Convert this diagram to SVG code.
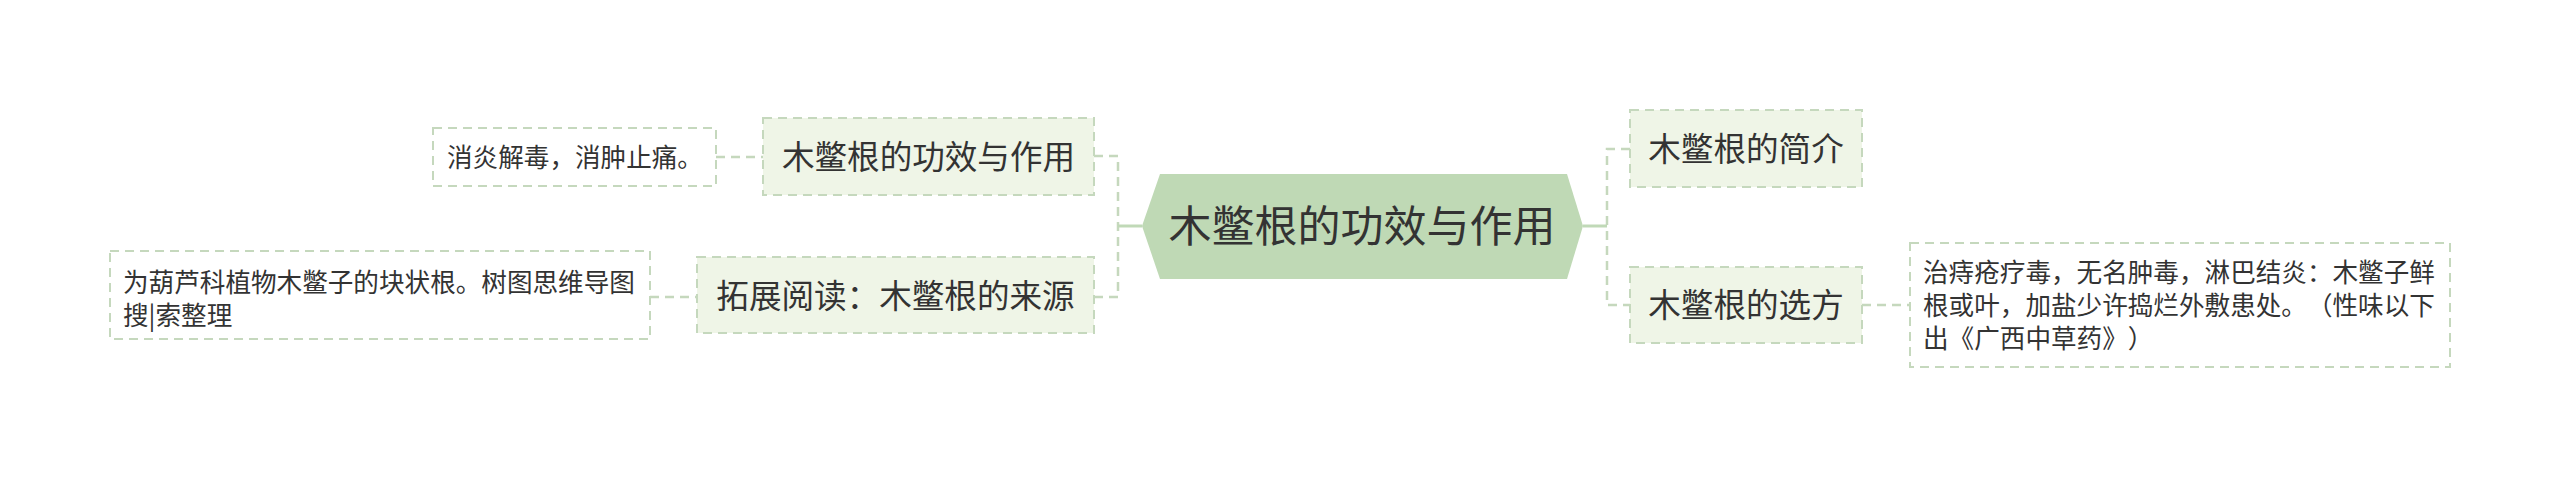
<svg xmlns="http://www.w3.org/2000/svg" width="2560" height="477" viewBox="0 0 2560 477">
<style>
text{font-family:"Noto Sans CJK SC","Microsoft YaHei",sans-serif;fill:#333333;text-spacing-trim:space-all}
.root{font-size:43px}
.l1{font-size:32.6px}
.leaf{font-size:25.6px}
.box1{fill:#eff5e7;stroke:#c5d8bd;stroke-width:2;stroke-dasharray:9 6}
.leafbox{fill:#ffffff;stroke:#c5d8bd;stroke-width:2;stroke-dasharray:9 6}
.dash{fill:none;stroke:#c5d8bd;stroke-width:2.5;stroke-dasharray:9 6}
.solid{fill:none;stroke:#c0d9b7;stroke-width:3}
</style>
<rect width="2560" height="477" fill="#ffffff"/>
<g id="connectors">
<path class="dash" d="M1094,156 H1118 V297 H1094"/>
<path class="solid" d="M1118,226 H1142"/>
<path class="dash" d="M1630,149 H1607 V305 H1630"/>
<path class="solid" d="M1583,226 H1607"/>
<path class="dash" d="M716,157 H763"/>
<path class="dash" d="M650,297 H697"/>
<path class="dash" d="M1862,305 H1910"/>
</g>
<g id="root">
<polygon points="1142,226 1160,174 1567,174 1583,226 1567,279 1160,279" fill="#bfd9b5"/>
<text class="root" x="1362" y="242" text-anchor="middle">木鳖根的功效与作用</text>
</g>
<g id="n-gongxiao">
<rect class="box1" x="763" y="118" width="331" height="77"/>
<text class="l1" x="928.5" y="169" text-anchor="middle">木鳖根的功效与作用</text>
</g>
<g id="n-laiyuan">
<rect class="box1" x="697" y="257" width="397" height="76"/>
<text class="l1" x="895.5" y="308" text-anchor="middle">拓展阅读：木鳖根的来源</text>
</g>
<g id="n-jianjie">
<rect class="box1" x="1630" y="110" width="232" height="77"/>
<text class="l1" x="1746" y="161" text-anchor="middle">木鳖根的简介</text>
</g>
<g id="n-xuanfang">
<rect class="box1" x="1630" y="267" width="232" height="76"/>
<text class="l1" x="1746" y="317" text-anchor="middle">木鳖根的选方</text>
</g>
<g id="leaf-gongxiao">
<rect class="leafbox" x="433" y="128" width="283" height="58"/>
<text class="leaf" x="447" y="167">消炎解毒，消肿止痛。</text>
</g>
<g id="leaf-laiyuan">
<rect class="leafbox" x="110" y="251" width="540" height="88"/>
<text class="leaf" x="123" y="292">为葫芦科植物木鳖子的块状根。树图思维导图</text>
<text class="leaf" x="123" y="325">搜|索整理</text>
</g>
<g id="leaf-xuanfang">
<rect class="leafbox" x="1910" y="243" width="540" height="124"/>
<text class="leaf" x="1923" y="282">治痔疮疗毒，无名肿毒，淋巴结炎：木鳖子鲜</text>
<text class="leaf" x="1923" y="315">根或叶，加盐少许捣烂外敷患处。（性味以下</text>
<text class="leaf" x="1923" y="348">出《广西中草药》）</text>
</g>
</svg>
